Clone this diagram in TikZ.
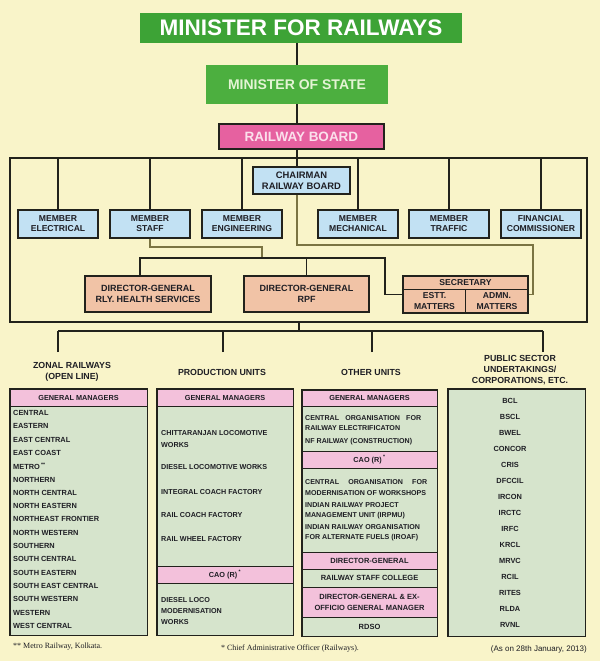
\documentclass[tikz,border=0pt]{standalone}
\usepackage{fontspec}
\setmainfont{Liberation Sans}
\newfontfamily\serifnote{Liberation Serif}
\usetikzlibrary{calc}
\newcommand\myfs[2]{\fontsize{#1}{#2}\selectfont}
\definecolor{bg}{HTML}{F9F4C9}
\definecolor{gA}{HTML}{3DA336}
\definecolor{gB}{HTML}{4CAF3F}
\definecolor{gBt}{HTML}{E4F4D4}
\definecolor{pinkRB}{HTML}{E661A0}
\definecolor{pinkRBt}{HTML}{FBE0EC}
\definecolor{mblue}{HTML}{C2E1F3}
\definecolor{peach}{HTML}{F1C3A6}
\definecolor{gmpink}{HTML}{F3C1DB}
\definecolor{sage}{HTML}{D6E4CC}
\definecolor{dark}{HTML}{22221C}
\definecolor{olive}{HTML}{7B7443}
\definecolor{txt}{HTML}{1E1E24}
\begin{document}
\begin{tikzpicture}[x=1pt,y=-1pt,
  ln/.style={draw=dark, line width=1.5pt},
  oln/.style={draw=olive, line width=1.4pt},
  member/.style={draw=dark, line width=1.2pt, fill=mblue, minimum width=80pt, minimum height=28pt, inner sep=0pt, align=center, text=txt, font=\bfseries\myfs{8.6}{10}},
  dgbox/.style={draw=dark, line width=1.2pt, fill=peach, minimum width=125pt, minimum height=36pt, inner sep=0pt, align=center, text=txt, font=\bfseries\myfs{9}{11}},
  col/.style={fill=sage, inner sep=0pt},
  colframe/.style={draw=dark, line width=1.4pt},
  hdr/.style={fill=gmpink, draw=dark, line width=0.8pt, inner sep=0pt, align=center, text=txt, font=\bfseries\myfs{7.3}{10}},
  rowg/.style={fill=sage, draw=dark, line width=0.8pt, inner sep=0pt, align=center, text=txt, font=\bfseries\myfs{7.5}{10}},
  item/.style={inner sep=0pt, anchor=west, align=left, text=txt, font=\bfseries\myfs{7.4}{11}},
  psuitem/.style={inner sep=0pt, text=txt, font=\bfseries\myfs{7.4}{9}},
  coltitle/.style={inner sep=0pt, align=center, text=txt, font=\bfseries\myfs{8.8}{11}},
]
\path[fill=bg] (0,0) rectangle (600,661);
\useasboundingbox (0,0) rectangle (600,661);

% top hierarchy
\node[fill=gA, minimum width=322pt, minimum height=30pt, inner sep=0pt, text=white, font=\bfseries\myfs{22.5}{23}] (mfr) at (301,28) {MINISTER FOR RAILWAYS};
\node[fill=gB, minimum width=182pt, minimum height=39pt, inner sep=0pt, text=gBt, font=\bfseries\myfs{14}{14}] (mos) at (297,84.5) {MINISTER OF STATE};
\node[fill=pinkRB, draw=dark, line width=1.2pt, minimum width=165pt, minimum height=25pt, inner sep=0pt, text=pinkRBt, font=\bfseries\myfs{13.5}{14}] (rb) at (301.5,136.5) {RAILWAY BOARD};

% board frame
\node[draw=dark, line width=1.3pt, minimum width=577pt, minimum height=164pt, inner sep=0pt] (frame) at (298.5,240) {};

\node[member, minimum width=97pt, minimum height=27pt, font=\bfseries\myfs{9.4}{11}] (ch) at (301.5,180.5) {CHAIRMAN\\RAILWAY BOARD};
\node[member] (mel) at (58,224) {MEMBER\\ELECTRICAL};
\node[member] (mst) at (150,224) {MEMBER\\STAFF};
\node[member] (men) at (242,224) {MEMBER\\ENGINEERING};
\node[member] (mme) at (358,224) {MEMBER\\MECHANICAL};
\node[member] (mtr) at (449,224) {MEMBER\\TRAFFIC};
\node[member] (mfc) at (541,224) {FINANCIAL\\COMMISSIONER};

\node[dgbox, minimum width=126pt] (dgh) at (148,294) {DIRECTOR-GENERAL\\RLY. HEALTH SERVICES};
\node[dgbox] (dgr) at (306.5,294) {DIRECTOR-GENERAL\\RPF};
\node[dgbox, minimum height=37pt] (sec) at (465.5,294.5) {};
\draw[dark, line width=0.9pt] ($(sec.north west)+(0,14)$) -- ($(sec.north east)+(0,14)$);
\draw[dark, line width=0.9pt] ($(sec.south west)+(63,0)$) -- ($(sec.north west)+(63,14)$);
\node[inner sep=0pt, text=txt, font=\bfseries\myfs{8.6}{10}] (secT) at ($(sec.north)+(0,7)$) {SECRETARY};
\node[inner sep=0pt, align=center, text=txt, font=\bfseries\myfs{8.6}{11}] (secE) at (434.5,301.5) {ESTT.\\MATTERS};
\node[inner sep=0pt, align=center, text=txt, font=\bfseries\myfs{8.6}{11}] (secA) at (497,301.5) {ADMN.\\MATTERS};

% top connectors
\draw[ln] (mos.north) -- (mos.north |- mfr.south);
\draw[ln] (mos.south) -- (mos.south |- rb.north);
\draw[ln] (mos.south |- rb.south) -- (mos.south |- ch.north);
\foreach \m in {mel,mst,men,mme,mtr,mfc} \draw[ln] (\m.north) -- (\m.north |- frame.north);

% chairman route to secretary
\coordinate (c1) at (297,245);
\coordinate (c2) at (533,245);
\draw[oln] (mos.south |- ch.south) -- (c1) -- (c2) -- (c2 |- sec.east) -- (sec.east);
% staff route
\coordinate (s1) at (150,247);
\coordinate (s2) at (262,247);
\coordinate (j1) at (262,258);
\draw[oln] (mst.south) -- (s1) -- (s2) -- (j1);
% DG bus
\coordinate (b1) at (140,258);
\coordinate (b2) at (385,258);
\draw[ln] (b1 |- dgh.north) -- (b1) -- (b2) -- (b2 |- sec.west) -- (sec.west);
\draw[ln] (dgr.north) -- (dgr.north |- b1);

% lower connectors
\coordinate (l0) at (299,331);
\coordinate (la) at (58,331);
\coordinate (lb) at (543,331);
\coordinate (d1) at (58,352);
\coordinate (d2) at (223,352);
\coordinate (d3) at (372,352);
\coordinate (d4) at (543,352);
\draw[ln] (l0 |- frame.south) -- (l0);
\draw[ln] (la) -- (lb);
\foreach \d in {d1,d2,d3,d4} \draw[ln] (\d) -- (\d |- la);

% column titles
\node[coltitle] (zt) at (72,371.5) {ZONAL RAILWAYS\\(OPEN LINE)};
\node[coltitle] (pt) at (222,372) {PRODUCTION UNITS};
\node[coltitle] (ot) at (371,372) {OTHER UNITS};
\node[coltitle] (st) at (520,370) {PUBLIC SECTOR\\UNDERTAKINGS/\\CORPORATIONS, ETC.};

% zonal column
\node[col, minimum width=137pt, minimum height=246pt] (zcol) at (78.5,512) {};
\node[hdr, minimum width=137pt, minimum height=17pt] (zgm) at (78.5,397.5) {GENERAL MANAGERS};
\foreach \t [count=\i] in {CENTRAL,EASTERN,EAST CENTRAL,EAST COAST,{METRO\,\textsuperscript{**}},NORTHERN,NORTH CENTRAL,NORTH EASTERN,NORTHEAST FRONTIER,NORTH WESTERN,SOUTHERN,SOUTH CENTRAL,SOUTH EASTERN,SOUTH EAST CENTRAL,SOUTH WESTERN,WESTERN,WEST CENTRAL}
  \node[item] (z\i) at (13,{413+13.3*(\i-1)}) {\t};
\draw[colframe] (zcol.north west) rectangle (zcol.south east);

% production column
\node[col, minimum width=136pt, minimum height=246pt] (pcol) at (225,512) {};
\node[hdr, minimum width=136pt, minimum height=17pt] (pgm) at (225,397.5) {GENERAL MANAGERS};
\node[hdr, minimum width=136pt, minimum height=17pt] (pcao) at (225,574.5) {CAO (R)\,\textsuperscript{*}};
\node[item, font=\bfseries\myfs{7.2}{12}] (p1) at (161,439) {CHITTARANJAN LOCOMOTIVE\\WORKS};
\node[item, font=\bfseries\myfs{7.2}{12}] (p2) at (161,467) {DIESEL LOCOMOTIVE WORKS};
\node[item, font=\bfseries\myfs{7.2}{12}] (p3) at (161,492) {INTEGRAL COACH FACTORY};
\node[item, font=\bfseries\myfs{7.2}{12}] (p4) at (161,515) {RAIL COACH FACTORY};
\node[item, font=\bfseries\myfs{7.2}{12}] (p5) at (161,539) {RAIL WHEEL FACTORY};
\node[item, font=\bfseries\myfs{7.2}{11}] (p6) at (161,611) {DIESEL LOCO\\MODERNISATION\\WORKS};
\draw[colframe] (pcol.north west) rectangle (pcol.south east);

% other units column
\node[col, minimum width=135pt, minimum height=246pt] (ocol) at (369.5,513) {};
\node[hdr, minimum width=135pt, minimum height=16pt] (ogm) at (369.5,398) {GENERAL MANAGERS};
\node[hdr, minimum width=135pt, minimum height=17pt] (ocao) at (369.5,459.5) {CAO (R)\,\textsuperscript{*}};
\node[hdr, minimum width=135pt, minimum height=17pt, font=\bfseries\myfs{7.5}{10}] (odg) at (369.5,560.5) {DIRECTOR-GENERAL};
\node[rowg, minimum width=135pt, minimum height=18pt] (orsc) at (369.5,578) {RAILWAY STAFF COLLEGE};
\node[hdr, minimum width=135pt, minimum height=30pt, font=\bfseries\myfs{7.5}{11}] (odgx) at (369.5,602) {DIRECTOR-GENERAL \& EX-\\OFFICIO GENERAL MANAGER};
\node[rowg, minimum width=135pt, minimum height=19pt] (ordso) at (369.5,626.5) {RDSO};
\node[item, font=\bfseries\myfs{7.1}{11}] (o1) at (305,418) {\hbox to 116pt{CENTRAL\hfill ORGANISATION\hfill FOR}};
\node[item, font=\bfseries\myfs{7.1}{11}] (o2) at (305,428.5) {RAILWAY ELECTRIFICATON};
\node[item, font=\bfseries\myfs{7.1}{11}] (o3) at (305,442) {NF RAILWAY (CONSTRUCTION)};
\node[item, font=\bfseries\myfs{7.1}{11}] (o4) at (305,482) {\hbox to 122pt{CENTRAL\hfill ORGANISATION\hfill FOR}};
\node[item, font=\bfseries\myfs{7.1}{11}] (o5) at (305,493) {MODERNISATION OF WORKSHOPS};
\node[item, font=\bfseries\myfs{7.1}{11}] (o6) at (305,505) {INDIAN RAILWAY PROJECT};
\node[item, font=\bfseries\myfs{7.1}{11}] (o7) at (305,515.5) {MANAGEMENT UNIT (IRPMU)};
\node[item, font=\bfseries\myfs{7.1}{11}] (o8) at (305,527) {INDIAN RAILWAY ORGANISATION};
\node[item, font=\bfseries\myfs{7.1}{11}] (o9) at (305,537.5) {FOR ALTERNATE FUELS (IROAF)};
\draw[colframe] (ocol.north west) rectangle (ocol.south east);

% PSU column
\node[col, minimum width=137pt, minimum height=247pt] (scol) at (516.5,512.5) {};
\foreach \t [count=\i] in {BCL,BSCL,BWEL,CONCOR,CRIS,DFCCIL,IRCON,IRCTC,IRFC,KRCL,MRVC,RCIL,RITES,RLDA,RVNL}
  \node[psuitem] (s\i) at (510,{401+16*(\i-1)}) {\t};
\draw[colframe] (scol.north west) rectangle (scol.south east);

% footnotes
\node[inner sep=0pt, anchor=west, text=txt, font=\serifnote\myfs{8}{9}] (fn1) at (13,647) {** Metro Railway, Kolkata.};
\node[inner sep=0pt, text=txt, font=\serifnote\myfs{8}{9}] (fn2) at (290,649) {* Chief Administrative Officer (Railways).};
\node[inner sep=0pt, anchor=east, text=txt, font=\myfs{8}{9}] (fn3) at (587,649) {(As on 28th January, 2013)};
\end{tikzpicture}
\end{document}
